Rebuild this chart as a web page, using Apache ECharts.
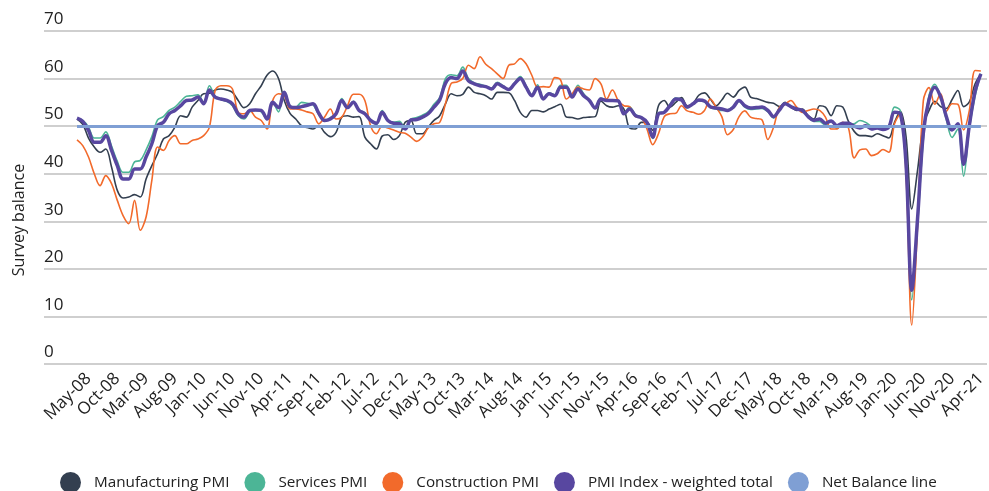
<!DOCTYPE html>
<html>
<head>
    <meta charset="utf-8">
    <title>PMI survey balance</title>
    <script src="https://cdn.jsdelivr.net/npm/echarts@6.0.0/dist/echarts.min.js"></script>
    <style>
        html, body { margin: 0; padding: 0; background: #ffffff; }
    </style>
</head>
<body>
    <div id="main" style="width: 989px;height:491px;"></div>
    <script>
        // monthly readings, Mar-08 .. Apr-21
        var monthNames = ['Jan', 'Feb', 'Mar', 'Apr', 'May', 'Jun', 'Jul', 'Aug', 'Sep', 'Oct', 'Nov', 'Dec'];
        var startYear = 2008, startMonth = 2, monthCount = 158;

        var manufacturing = [
            51.5, 50.4, 47.5, 45.6, 44.5, 45.2, 41.4, 36.5, 34.9, 35.1,
            35.6, 35.1, 38.9, 41.7, 44.2, 47.3, 48.0, 49.8, 52.2, 51.9,
            54.0, 55.4, 56.8, 56.9, 57.6, 57.8, 57.6, 57.1, 55.4, 53.9,
            54.7, 56.8, 58.5, 60.7, 61.6, 60.0, 55.4, 52.7, 51.5, 50.1,
            49.7,
            49.4, 50.1, 48.7, 47.8, 48.7, 51.9, 52.2, 51.9, 52.0, 47.7,
            46.3, 45.2, 47.9, 48.2, 47.2, 48.0, 50.8, 51.2, 48.4, 48.4,
            49.8, 51.2, 52.2, 54.7, 56.8, 56.4, 56.7, 58.2, 57.1, 56.8,
            56.4, 55.7, 57.1, 57.1, 57.0, 55.4, 52.9, 51.9, 53.3, 53.3,
            53.0, 53.6, 54.1, 54.6, 51.9, 51.8, 51.5, 51.8, 51.9, 52.0,
            55.3, 54.3, 54.0, 54.3, 53.6, 49.6, 49.4, 50.8, 50.8, 49.1,
            54.3, 55.4, 54.0, 55.0, 56.0, 54.3, 54.7, 56.5, 57.0, 55.7,
            54.3, 55.5, 56.9, 56.1, 57.5, 58.2, 56.1,
            55.8,
            55.4, 55.0, 54.8,
            54.1, 55.0, 54.0, 53.3, 53.6, 52.2, 51.5, 54.3, 54.0, 52.2,
            54.3, 54.0, 51.0, 48.9, 48.0, 48.0, 47.8, 48.4, 48.0, 47.5,
            50.8, 53.1, 47.8, 32.6, 40.7, 50.1, 53.3, 55.2, 54.1, 53.7,
            55.6, 57.5, 54.1, 55.1, 58.9, 60.9
        ];

        var services = [
            51.6, 51.2, 49.8, 47.5, 47.5, 48.8, 45.8, 42.6, 40.3, 40.3,
            42.5, 42.8, 45.0, 47.8, 51.3, 52.0, 53.3, 54.0, 55.2, 56.3,
            56.4, 56.6, 55.0, 58.5, 56.3, 55.6, 55.2, 54.3, 52.2, 51.5,
            53.0, 53.3, 53.0, 51.4, 55.0, 53.0, 57.2, 54.3, 54.0, 55.0,
            54.8,
            54.5, 52.4, 51.2, 51.8, 52.7, 55.8, 53.8, 55.2, 53.4, 52.8,
            51.4, 50.3, 53.3, 51.3, 50.8, 51.0, 49.5, 51.5, 51.8, 52.3,
            53.0, 54.6, 56.0, 60.0, 60.8, 60.6, 62.4, 60.0, 59.1, 58.8,
            58.4, 58.0, 59.2, 58.5, 57.7, 59.1, 60.4, 58.5, 56.6, 58.7,
            55.8, 57.0, 56.6, 58.6, 58.6, 56.3, 58.6, 56.8, 55.5, 54.0,
            55.9, 55.5, 55.5, 55.4, 52.8, 54.0, 52.4, 51.9, 50.7, 47.4,
            52.8, 53.0, 54.6, 55.9, 55.5, 53.8, 54.8, 55.3, 55.1, 53.9,
            53.6, 53.3, 53.4, 54.1, 55.2, 54.0, 53.5,
            53.6,
            53.7, 53.0, 51.7,
            53.8, 54.8, 54.1, 53.6, 53.3, 52.0, 51.0, 51.0, 50.2, 51.2,
            49.5, 50.4, 50.4, 50.5, 51.2, 50.8, 49.9, 49.6, 49.6, 49.9,
            54.0, 53.3, 41.0, 13.5, 29.0, 47.1, 56.5, 58.8, 56.1, 51.4,
            47.6, 49.4, 39.5, 49.5, 56.3, 61.0
        ];

        var construction = [
            47.1, 45.9, 43.5, 40.0, 37.5, 39.6, 37.9, 34.4, 31.2, 29.5,
            34.4, 28.1, 30.9, 38.6, 45.6, 44.9, 47.0, 48.0, 46.3, 46.3,
            47.0, 47.3, 48.0, 49.8, 57.5, 58.5, 58.5, 57.8, 52.9, 52.6,
            53.3, 51.9, 51.2, 49.4, 55.4, 56.8, 56.4, 53.6, 53.6, 53.4,
            53.0,
            52.6, 50.5, 51.9, 53.6, 51.5, 51.9, 54.3, 56.7, 56.7, 55.4,
            50.1, 48.4, 50.0, 49.6, 49.2, 48.7, 48.5, 47.7, 46.8, 47.7,
            49.6, 50.5, 50.8, 54.7, 59.0, 59.3, 60.0, 62.8, 62.1, 64.6,
            63.0, 62.1, 61.0, 60.0, 62.8, 63.1, 64.2, 63.1, 60.7, 58.2,
            58.3, 58.2, 60.2, 59.7, 55.7, 56.8, 58.2, 57.8, 57.6, 60.0,
            58.9, 55.7, 57.6, 55.4, 54.3, 54.1, 52.0, 51.8, 49.4, 46.1,
            48.4, 52.0, 52.6, 52.7, 54.3, 53.2, 52.9, 52.5, 53.3, 55.7,
            54.0, 52.0, 48.2, 49.3, 52.0, 53.2, 51.9,
            51.6,
            51.3, 47.2, 49.8,
            54.0, 54.6, 55.4, 54.0, 52.9, 53.3, 53.6, 53.3, 51.9, 49.4,
            49.4, 50.8, 49.6, 43.3, 45.0, 45.2, 43.8, 44.2, 45.1, 44.5,
            50.5, 52.6, 40.0, 8.2, 28.9, 55.3, 58.1, 54.6, 56.8, 53.1,
            54.7, 54.6, 49.2, 53.3, 61.7, 61.6
        ];

        var pmiIndex = [
            51.7, 51.0, 49.1, 46.6, 46.6, 48.0, 44.9, 41.7, 38.9, 38.9,
            41.0, 41.0, 43.5, 46.3, 50.1, 50.8, 52.6, 53.3, 54.3, 55.4,
            55.5, 56.1, 54.7, 57.6, 56.1, 55.7, 55.4, 54.7, 52.6, 51.9,
            53.3, 53.4, 53.3, 51.5, 55.0, 53.9, 57.1, 54.1, 53.9, 54.1,
            54.4,
            54.7, 52.7, 51.2, 51.5, 52.6, 55.4, 53.9, 55.0, 53.3, 52.6,
            51.2, 50.6, 52.9, 51.2, 50.6, 50.5, 49.4, 51.3, 51.4, 51.9,
            52.6, 54.0, 55.5, 59.0, 60.2, 60.0, 61.6, 59.5, 58.9, 58.5,
            58.3, 57.8, 58.9, 58.3, 57.7, 58.9, 60.0, 58.2, 56.4, 58.2,
            55.7, 56.8, 56.4, 58.2, 58.2, 56.1, 57.8, 56.4, 55.4, 53.8,
            55.7, 55.4, 55.4, 55.3, 52.6, 53.6, 52.2, 51.8, 50.8, 47.7,
            52.6, 52.9, 54.3, 55.7, 55.5, 54.0, 54.7, 55.5, 55.3, 54.1,
            53.8, 53.6, 53.3, 54.0, 55.4, 54.3, 53.8,
            53.9,
            54.0, 53.3, 52.0,
            53.4, 54.7, 54.1, 53.6, 53.3, 52.0, 51.2, 51.5, 50.6, 51.1,
            50.1, 50.6, 50.6, 50.0, 49.6, 50.1, 49.4, 49.6, 49.3, 49.8,
            52.9, 52.6, 42.0, 15.5, 30.5, 48.5, 55.6, 58.2, 56.2, 52.0,
            49.2, 50.5, 42.0, 50.2, 57.3, 61.0
        ];

        var netBalance = 50;
        var yTicks = { min: 0, max: 70, step: 10 };
        var firstLabel = 2, labelEvery = 5;   // May-08, then every 5 months

        var categories = [];
        for (var k = 0; k < monthCount; k++) {
            var m = (startMonth + k) % 12;
            var y = startYear + Math.floor((startMonth + k) / 12);
            categories.push(monthNames[m] + '-' + String(y % 100).padStart(2, '0'));
        }

        var font = "'Open Sans', sans-serif";
        var textColor = '#222222';

        var myChart = echarts.init(document.getElementById('main'));
        var option = {
            backgroundColor: '#ffffff',
            animation: false,
            textStyle: { fontFamily: font },
            graphic: [{
                type: 'text',
                x: 19,
                y: 220,
                rotation: Math.PI / 2,
                style: {
                    text: 'Survey balance',
                    font: "16px 'Open Sans'",
                    fill: textColor,
                    align: 'center',
                    verticalAlign: 'middle'
                }
            }],
            legend: {
                left: 60,
                top: 472,
                padding: 0,
                icon: 'circle',
                itemWidth: 21,
                itemHeight: 21,
                itemGap: 15,
                textStyle: { fontSize: 15.25, color: textColor, fontFamily: font, padding: [0, 0, 0, 8] },
                data: ['Manufacturing PMI', 'Services PMI', 'Construction PMI', 'PMI Index - weighted total', 'Net Balance line']
            },
            // grid 0 carries the gridlines and y labels, grid 1 the data
            grid: [
                { left: 44, right: 2, top: 31, bottom: 127 },
                { left: 77, right: 6.4, top: 31, bottom: 127 }
            ],
            xAxis: [{
                gridIndex: 0,
                type: 'value',
                show: false
            }, {
                gridIndex: 1,
                type: 'category',
                data: categories,
                boundaryGap: false,
                axisLine: { show: false },
                axisTick: { show: false },
                splitLine: { show: false },
                axisLabel: {
                    rotate: 45,
                    margin: 12,
                    padding: [24, 0, 0, 0],
                    fontSize: 17,
                    color: textColor,
                    fontFamily: font,
                    interval: function (index) {
                        return index >= firstLabel && (index - firstLabel) % labelEvery === 0;
                    }
                }
            }],
            yAxis: [{
                gridIndex: 0,
                type: 'value',
                min: yTicks.min,
                max: yTicks.max,
                interval: yTicks.step,
                axisLine: { show: false },
                axisTick: { show: false },
                splitLine: { lineStyle: { color: '#cfcfcf', width: 2 } },
                axisLabel: {
                    inside: true,
                    margin: 0,
                    verticalAlign: 'bottom',
                    padding: [0, 0, 3, 0],
                    fontSize: 17,
                    color: textColor,
                    fontFamily: font
                }
            }, {
                gridIndex: 1,
                type: 'value',
                min: yTicks.min,
                max: yTicks.max,
                show: false
            }],
            series: [{
                name: 'Manufacturing PMI',
                type: 'line',
                xAxisIndex: 1,
                yAxisIndex: 1,
                smooth: 0.35,
                symbol: 'none',
                color: '#333f50',
                lineStyle: { width: 1.6 },
                data: manufacturing
            }, {
                name: 'Services PMI',
                type: 'line',
                xAxisIndex: 1,
                yAxisIndex: 1,
                smooth: 0.35,
                symbol: 'none',
                color: '#4cb596',
                lineStyle: { width: 1.6 },
                data: services
            }, {
                name: 'Construction PMI',
                type: 'line',
                xAxisIndex: 1,
                yAxisIndex: 1,
                smooth: 0.35,
                symbol: 'none',
                color: '#f26a2b',
                lineStyle: { width: 1.6 },
                data: construction
            }, {
                name: 'PMI Index - weighted total',
                type: 'line',
                xAxisIndex: 1,
                yAxisIndex: 1,
                smooth: 0.35,
                symbol: 'none',
                color: '#5847a0',
                lineStyle: { width: 3.5 },
                data: pmiIndex
            }, {
                name: 'Net Balance line',
                type: 'line',
                xAxisIndex: 1,
                yAxisIndex: 1,
                symbol: 'none',
                color: '#7f9fd4',
                data: [],
                markLine: {
                    silent: true,
                    symbol: 'none',
                    label: { show: false },
                    lineStyle: { color: '#7f9fd4', width: 3, type: 'solid' },
                    data: [{ yAxis: netBalance }]
                }
            }]
        };
        myChart.setOption(option);
    </script>
</body>
</html>
